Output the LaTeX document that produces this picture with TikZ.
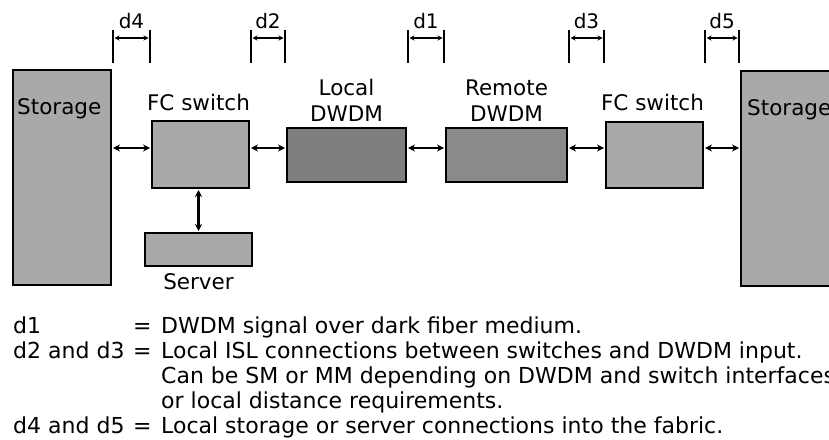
\documentclass[tikz,border=0pt]{standalone}
\usepackage{fontspec}
\setmainfont{DejaVu Sans}
\usepackage{xcolor}
\usepackage{tikz}
\usetikzlibrary{positioning, arrows.meta, calc}
\definecolor{boxgray}{HTML}{A9A9A9}
\definecolor{dwdmgray}{HTML}{7E7E7E}
\definecolor{remgray}{HTML}{8A8A8A}

\tikzset{
  unit/.style={draw, line width=2pt, fill=boxgray, inner sep=0pt},
  lbl/.style={inner sep=0pt, font=\fontsize{21.5}{26}\selectfont, align=center},
  link/.style={{Stealth[length=7pt,width=7pt]}-{Stealth[length=7pt,width=7pt]}, line width=2.3pt, shorten <=1pt, shorten >=1pt},
  dimbar/.style={line width=2.8pt},
  dimarrow/.style={{Stealth[length=5pt,width=5pt]}-{Stealth[length=5pt,width=5pt]}, line width=1.4pt, shorten <=1.5pt, shorten >=1.5pt},
  keytext/.style={anchor=base west, inner sep=0pt, font=\fontsize{22}{25}\selectfont}
}

\begin{document}
\begin{tikzpicture}[x=1pt, y=-1pt]
  \path[use as bounding box, clip] (0,0) rectangle (829,439);

  % units
  \node[unit, minimum width=98pt, minimum height=215pt] (storL) at (62,177.5) {};
  \node[unit, minimum width=97pt, minimum height=67pt] (fcL) at (200.5,154.5) {};
  \node[unit, minimum width=107pt, minimum height=33pt] (server) at (198.5,249.5) {};
  \node[unit, fill=dwdmgray, minimum width=119pt, minimum height=54pt] (locD) at (346.5,155) {};
  \node[unit, fill=remgray, minimum width=121pt, minimum height=54pt] (remD) at (506.5,155) {};
  \node[unit, minimum width=97pt, minimum height=66pt] (fcR) at (654.5,154.5) {};
  \node[unit, minimum width=110pt, minimum height=215pt, anchor=north west] (storR) at (740,70) {};

  % labels
  \node[lbl, anchor=base west] (storLtxt) at ([xshift=5pt, yshift=-45pt]storL.north west) {Storage};
  \node[lbl, anchor=base west] (storRtxt) at ([xshift=7pt, yshift=-45pt]storR.north west) {Storage};
  \node[lbl, above=9pt of fcL, xshift=-2pt] (fcLtxt) {FC switch};
  \node[lbl, above=9pt of fcR, xshift=-2pt] (fcRtxt) {FC switch};
  \node[lbl, above=5pt of locD] (locDtxt) {Local\\DWDM};
  \node[lbl, above=5pt of remD] (remDtxt) {Remote\\DWDM};
  \node[lbl, below=6pt of server] (servertxt) {Server};

  % links and distances
  \coordinate (linkrow) at (0,148);
  \coordinate (bartop) at (0,30);
  \coordinate (barbot) at (0,63);
  \coordinate (dimrow) at (0,38);
  \coordinate (dimtxt) at (0,28);
  \foreach \a/\b/\d in {storL/fcL/d4, fcL/locD/d2, locD/remD/d1, remD/fcR/d3, fcR/storR/d5}{
    \draw[link] (\a.east |- linkrow) -- (\b.west |- linkrow);
    \draw[dimbar] ([xshift=1pt]\a.east |- bartop) -- ([xshift=1pt]\a.east |- barbot);
    \draw[dimbar] ([xshift=-1pt]\b.west |- bartop) -- ([xshift=-1pt]\b.west |- barbot);
    \draw[dimarrow] ([xshift=1pt]\a.east |- dimrow) -- ([xshift=-1pt]\b.west |- dimrow);
    \node[lbl, anchor=base, font=\fontsize{20}{24}\selectfont] (\d) at ($(\a.east |- dimtxt)!0.5!(\b.west |- dimtxt)$) {\d};
  }
  \draw[link, line width=2.6pt] (server.north |- fcL.south) -- (server.north);

  % key
  \foreach \n/\y/\k/\e/\t in {
    1/333/d1/=/DWDM signal over dark fiber medium.,
    2/358/d2 and d3/=/Local ISL connections between switches and DWDM input.,
    3/383///Can be SM or MM depending on DWDM and switch interfaces,
    4/408///or local distance requirements.,
    5/433/d4 and d5/=/Local storage or server connections into the fabric.}{
    \node[keytext] (key\n) at (13,\y) {\k};
    \node[keytext] (eq\n) at (133,\y) {\e};
    \node[keytext] (desc\n) at (161,\y) {\t};
  }
\end{tikzpicture}
\end{document}
